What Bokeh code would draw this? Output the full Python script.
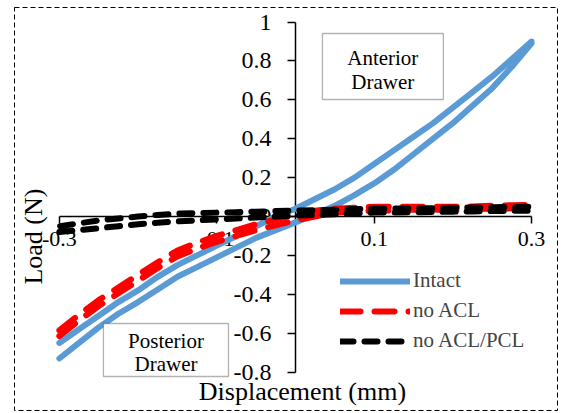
import math
from bokeh.plotting import figure
from bokeh.models import Range1d, FixedTicker, Legend, LegendItem, Label, BoxAnnotation
from bokeh.embed import file_html
from bokeh.resources import INLINE

# ---- data ----
disp = [-0.3, -0.275, -0.25, -0.225, -0.2, -0.175, -0.15, -0.125, -0.1, -0.075, -0.05, -0.025, 0.0,
        0.025, 0.05, 0.075, 0.1, 0.125, 0.15, 0.175, 0.2, 0.225, 0.25, 0.275, 0.3]
intact_lower = [-0.73, -0.65, -0.57, -0.50, -0.44, -0.375, -0.31, -0.26, -0.21, -0.16, -0.11, -0.07, -0.03,
                0.01, 0.055, 0.11, 0.17, 0.24, 0.32, 0.40, 0.48, 0.57, 0.66, 0.77, 0.89]
intact_upper = [-0.65, -0.58, -0.51, -0.44, -0.38, -0.31, -0.25, -0.20, -0.15, -0.10, -0.05, 0.0, 0.04,
                0.09, 0.14, 0.20, 0.27, 0.34, 0.41, 0.48, 0.56, 0.64, 0.72, 0.81, 0.90]
noacl_lower = [-0.615, -0.535, -0.46, -0.395, -0.33, -0.265, -0.205, -0.165, -0.13, -0.10, -0.07, -0.045, -0.02,
               0.0, 0.02, 0.025, 0.03, 0.032, 0.035, 0.035, 0.035, 0.038, 0.04, 0.042, 0.045]
noacl_upper = [-0.585, -0.505, -0.43, -0.365, -0.30, -0.235, -0.175, -0.135, -0.10, -0.07, -0.04, -0.015, 0.01,
               0.03, 0.04, 0.045, 0.05, 0.05, 0.05, 0.05, 0.05, 0.052, 0.055, 0.058, 0.06]
noaclpcl_lower = [-0.08, -0.07, -0.06, -0.05, -0.04, -0.032, -0.025, -0.02, -0.015, -0.01, -0.005, 0.0, 0.005,
                  0.008, 0.012, 0.016, 0.02, 0.021, 0.022, 0.023, 0.025, 0.026, 0.028, 0.029, 0.03]
noaclpcl_upper = [-0.05, -0.035, -0.02, -0.01, 0.0, 0.008, 0.015, 0.018, 0.02, 0.022, 0.025, 0.028, 0.03,
                  0.032, 0.035, 0.038, 0.04, 0.041, 0.042, 0.043, 0.045, 0.046, 0.048, 0.049, 0.05]

x_ticks = [-0.3, -0.1, 0.1, 0.3]
x_tick_labels = ["-0.3", "-0.1", "0.1", "0.3"]
y_ticks = [-0.8, -0.6, -0.4, -0.2, 0, 0.2, 0.4, 0.6, 0.8, 1]
y_tick_labels = ["-0.8", "-0.6", "-0.4", "-0.2", "0", "0.2", "0.4", "0.6", "0.8", "1"]
series_names = ["Intact", "no ACL", "no ACL/PCL"]

FONT = "Liberation Serif"

p = figure(width=564, height=413, output_backend="svg", toolbar_location=None,
           x_range=Range1d(-0.357, 0.333), y_range=Range1d(-0.9974, 1.0746),
           min_border_left=14, min_border_right=7, min_border_top=7, min_border_bottom=3)
p.background_fill_color = "white"
p.border_fill_color = "white"
p.outline_line_color = "black"
p.outline_line_width = 1
p.outline_line_dash = "5 3"
p.xgrid.visible = False
p.ygrid.visible = False

# axes crossing at the origin
for ax in (p.xaxis, p.yaxis):
    ax.fixed_location = 0
    ax.axis_line_color = "black"
    ax.axis_line_width = 1.5
    ax.major_tick_line_color = "black"
    ax.major_tick_line_width = 1.5
    ax.minor_tick_line_color = None
    ax.major_tick_in = 0
    ax.major_label_text_font = FONT
    ax.major_label_text_color = "black"
    ax.level = "underlay"

p.xaxis.ticker = FixedTicker(ticks=x_ticks)
p.xaxis.major_label_overrides = {t: l for t, l in zip(x_ticks, x_tick_labels)}
p.xaxis.bounds = (x_ticks[0], x_ticks[-1])
p.xaxis.major_tick_out = 7
p.xaxis.major_label_standoff = 8
p.xaxis.major_label_text_font_size = "22px"

p.yaxis.ticker = FixedTicker(ticks=y_ticks)
p.yaxis.major_label_overrides = {t: l for t, l in zip(y_ticks, y_tick_labels)}
p.yaxis.bounds = (y_ticks[0], y_ticks[-1])
p.yaxis.major_tick_out = 8
p.yaxis.major_label_standoff = 16
p.yaxis.major_label_text_font_size = "24px"

# curves (loading and unloading branches)
r1 = p.line(disp + disp[::-1], intact_lower + intact_upper[::-1],
            line_color="#5B9BD5", line_width=6, line_join="round", line_cap="round")
red_style = dict(line_color="#FF0000", line_width=6, line_dash="20 14", line_join="round", line_cap="round")
r2 = p.line(disp, noacl_lower, **red_style)
r2b = p.line(disp, noacl_upper, **red_style)
r3 = p.line(disp + disp[::-1], noaclpcl_lower + noaclpcl_upper[::-1],
            line_color="black", line_width=6, line_dash="13 11", line_join="round", line_cap="round")

legend = Legend(items=[LegendItem(label=series_names[0], renderers=[r1]),
                       LegendItem(label=series_names[1], renderers=[r2]),
                       LegendItem(label=series_names[2], renderers=[r3])],
                location=(326, 57), border_line_alpha=0, background_fill_alpha=0,
                label_text_font=FONT, label_text_font_size="21px",
                glyph_width=70, glyph_height=24, label_height=24, spacing=5,
                padding=0, margin=0, label_standoff=3)
p.add_layout(legend)

# annotation boxes
p.add_layout(BoxAnnotation(left=0.0343, right=0.188, top=0.941, bottom=0.6015,
                           fill_color="white", fill_alpha=1, line_color="black", line_width=1.3))
p.add_layout(BoxAnnotation(left=-0.244, right=-0.0851, top=-0.550, bottom=-0.8226,
                           fill_color="white", fill_alpha=1, line_color="black", line_width=1.3))
for txt, xx, yy in [("Anterior", 0.111, 0.817), ("Drawer", 0.111, 0.689),
                    ("Posterior", -0.1645, -0.638), ("Drawer", -0.1645, -0.756)]:
    p.add_layout(Label(x=xx, y=yy, text=txt, text_align="center", text_baseline="middle",
                       text_font=FONT, text_font_size="21px", text_color="black"))

# axis titles
p.add_layout(Label(x=0.0089, y=-0.90, text="Displacement (mm)", text_align="center",
                   text_baseline="middle", text_font=FONT, text_font_size="26px", text_color="black"))
p.add_layout(Label(x=-0.333, y=-0.103, text="Load (N)", angle=math.pi / 2, text_align="center",
                   text_baseline="middle", text_font=FONT, text_font_size="26px", text_color="black"))

open("out.html", "w").write(file_html(p, INLINE))
